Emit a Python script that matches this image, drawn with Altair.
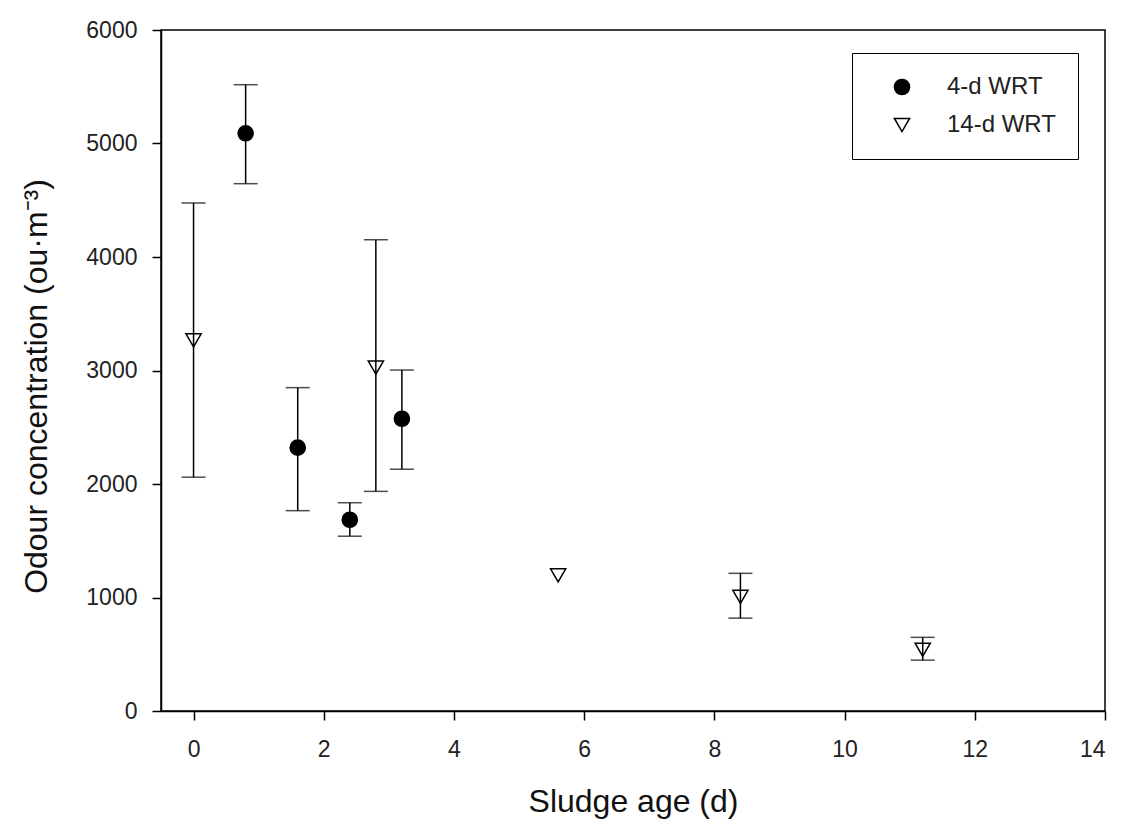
import altair as alt
import pandas as pd

series = ["4-d WRT"] * 4 + ["14-d WRT"] * 5
sludge_age = [0.8, 1.6, 2.4, 3.2, 0.0, 2.8, 5.6, 8.4, 11.2]
odour = [5090, 2320, 1685, 2575, 3265, 3025, 1195, 1005, 540]
err_low = [4646, 1765, 1540, 2130, 2060, 1935, None, 818, 448]
err_high = [5518, 2849, 1835, 3004, 4476, 4152, None, 1213, 649]

df = pd.DataFrame({
    "series": series,
    "age": sludge_age,
    "odour": odour,
    "lo": err_low,
    "hi": err_high,
})
df_err = df.dropna()

FONT = "Liberation Sans"
order = ["4-d WRT", "14-d WRT"]


def legend():
    return alt.Legend(title=None, orient="none", legendX=691, legendY=23,
                      strokeColor="black", padding=22, symbolOffset=16,
                      labelOffset=33, rowPadding=14, symbolSize=230,
                      symbolStrokeColor="black", symbolStrokeWidth=1.5,
                      labelFontSize=24, labelFont=FONT, labelColor="#222",
                      fillColor="white")


x_enc = alt.X("age:Q", scale=alt.Scale(domain=[-0.5, 14], nice=False, zero=False),
              axis=alt.Axis(title="Sludge age (d)", values=[0, 2, 4, 6, 8, 10, 12, 14],
                            format="d", titleY=100, titleBaseline="alphabetic"))
y_enc = alt.Y("odour:Q", scale=alt.Scale(domain=[0, 6000], nice=False),
              axis=alt.Axis(title="Odour concentration (ou·m⁻³)",
                            values=[0, 1000, 2000, 3000, 4000, 5000, 6000], format="d",
                            titleX=-115, titleY=356, titleBaseline="alphabetic"))

points = alt.Chart(df).mark_point(filled=True, strokeWidth=1.5,
                                  size=230, opacity=1).encode(
    x=x_enc,
    y=y_enc,
    shape=alt.Shape("series:N", scale=alt.Scale(domain=order, range=["circle", "triangle-down"]),
                    legend=legend()),
    fill=alt.Fill("series:N", scale=alt.Scale(domain=order, range=["black", "white"]),
                  legend=legend()),
    stroke=alt.Stroke("series:N", scale=alt.Scale(domain=order, range=["black", "black"]),
                      legend=legend()),
)

rules = alt.Chart(df_err).mark_rule(color="black", strokeWidth=1.5).encode(
    x="age:Q", y="lo:Q", y2="hi:Q")
caps_lo = alt.Chart(df_err).mark_tick(color="black", orient="horizontal", size=24,
                                      thickness=1.5).encode(x="age:Q", y="lo:Q")
caps_hi = alt.Chart(df_err).mark_tick(color="black", orient="horizontal", size=24,
                                      thickness=1.5).encode(x="age:Q", y="hi:Q")

chart = alt.layer(points, rules, caps_lo, caps_hi).properties(
    width=944, height=681,
    autosize=alt.AutoSizeParams(type="none"),
    padding={"left": 161, "top": 30, "right": 18, "bottom": 113},
    background="white",
).configure_view(
    stroke="black", strokeWidth=1.5
).configure_axis(
    grid=False, domainColor="black", domainWidth=1.5, tickColor="black", tickWidth=1.5,
    tickSize=9, labelFont=FONT, labelFontSize=23, labelColor="#222",
    titleFont=FONT, titleFontSize=32, titleFontWeight="normal", titleColor="#111",
).configure_axisX(labelPadding=18).configure_axisY(labelPadding=15)

chart.save("out.html", embed_options={"renderer": "svg", "actions": False})
